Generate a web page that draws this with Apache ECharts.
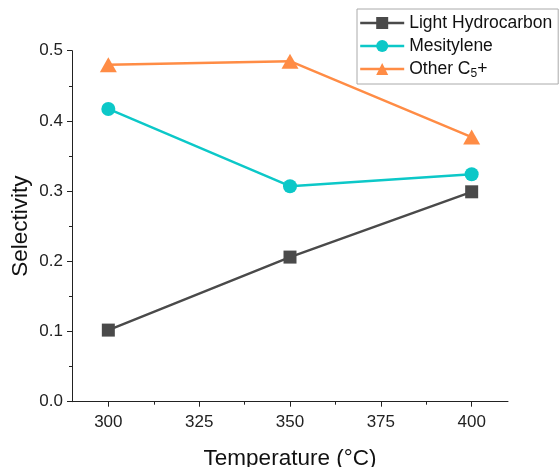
<!DOCTYPE html>
<html>
<head>
<meta charset="utf-8">
<script src="https://cdn.jsdelivr.net/npm/echarts@6/dist/echarts.min.js"></script>
<style>
  html, body { margin: 0; padding: 0; background: #fff; }
  #chart { width: 560px; height: 467px; }
</style>
</head>
<body>
<div id="chart"></div>
<script>
// Reaction temperature (°C) and product selectivity
const temperatures = [300, 350, 400];
const lightHydrocarbon = [0.102, 0.206, 0.299];
const mesitylene = [0.417, 0.307, 0.324];
const otherC5 = [0.480, 0.485, 0.377];
const xMajorTicks = [300, 325, 350, 375, 400];
const xMinorTicks = [312.5, 337.5, 362.5, 387.5];

const FONT = 'Liberation Sans, Arial, sans-serif';
const pairs = (ys) => temperatures.map((t, i) => [t, ys[i]]);

const chart = echarts.init(document.getElementById('chart'), null, { renderer: 'canvas' });

chart.setOption({
  backgroundColor: '#ffffff',
  animation: false,
  textStyle: { fontFamily: FONT },
  grid: { left: 72, right: 52, top: 50.7, bottom: 65.3, outerBoundsMode: 'none', containLabel: false },
  legend: {
    left: 357,
    top: 9,
    orient: 'vertical',
    itemWidth: 44,
    itemHeight: 15,
    itemGap: 5,
    padding: [5, 6, 4, 2],
    borderColor: '#aaaaaa',
    borderWidth: 1,
    lineStyle: { width: 2.4 },
    textStyle: {
      fontFamily: FONT,
      fontSize: 17.5,
      color: '#111',
      rich: {
        a: { fontFamily: FONT, fontSize: 17.5, color: '#111' },
        s: { fontFamily: FONT, fontSize: 12, color: '#111', padding: [10, 0, 0, 0] }
      }
    },
    formatter: (name) => name === 'Other C5+' ? '{a|Other C}{s|5}{a|+}' : name,
    data: ['Light Hydrocarbon', 'Mesitylene', 'Other C5+']
  },
  xAxis: [
    {
      type: 'value',
      min: 290,
      max: 410,
      name: 'Temperature (°C)',
      nameLocation: 'middle',
      nameMoveOverlap: false,
      nameGap: 45.5,
      nameTextStyle: { fontFamily: FONT, fontSize: 22.5, color: '#111' },
      axisLine: { show: true, lineStyle: { color: '#222', width: 1 } },
      axisTick: { show: true, inside: false, length: 5, customValues: xMajorTicks, lineStyle: { color: '#222' } },
      axisLabel: { customValues: xMajorTicks, margin: 12, fontSize: 17, color: '#222', fontFamily: FONT },
      splitLine: { show: false }
    },
    {
      type: 'value',
      min: 290,
      max: 410,
      position: 'bottom',
      axisLine: { show: false },
      axisTick: { show: true, length: 3, customValues: xMinorTicks, lineStyle: { color: '#222' } },
      axisLabel: { show: false },
      splitLine: { show: false }
    }
  ],
  yAxis: {
    type: 'value',
    min: 0,
    max: 0.5,
    interval: 0.1,
    name: 'Selectivity',
    nameLocation: 'middle',
    nameMoveOverlap: false,
    nameGap: 40,
    nameTextStyle: { fontFamily: FONT, fontSize: 22.5, color: '#111' },
    axisLine: { show: true, lineStyle: { color: '#222', width: 1 } },
    axisTick: { show: true, length: 5, lineStyle: { color: '#222' } },
    minorTick: { show: true, splitNumber: 2, length: 3, lineStyle: { color: '#222' } },
    axisLabel: { margin: 9, fontSize: 17, color: '#222', fontFamily: FONT, formatter: (v) => v.toFixed(1) },
    splitLine: { show: false }
  },
  series: [
    {
      name: 'Light Hydrocarbon',
      type: 'line',
      data: pairs(lightHydrocarbon),
      symbol: 'rect',
      symbolSize: 13,
      lineStyle: { color: '#4a4a4a', width: 2.4 },
      itemStyle: { color: '#4a4a4a' }
    },
    {
      name: 'Mesitylene',
      type: 'line',
      data: pairs(mesitylene),
      symbol: 'circle',
      symbolSize: 14,
      lineStyle: { color: '#0cc8c8', width: 2.4 },
      itemStyle: { color: '#0cc8c8' }
    },
    {
      name: 'Other C5+',
      type: 'line',
      data: pairs(otherC5),
      symbol: 'triangle',
      symbolSize: [17, 15],
      lineStyle: { color: '#ff8c45', width: 2.4 },
      itemStyle: { color: '#ff8c45' }
    }
  ]
});
</script>
</body>
</html>
